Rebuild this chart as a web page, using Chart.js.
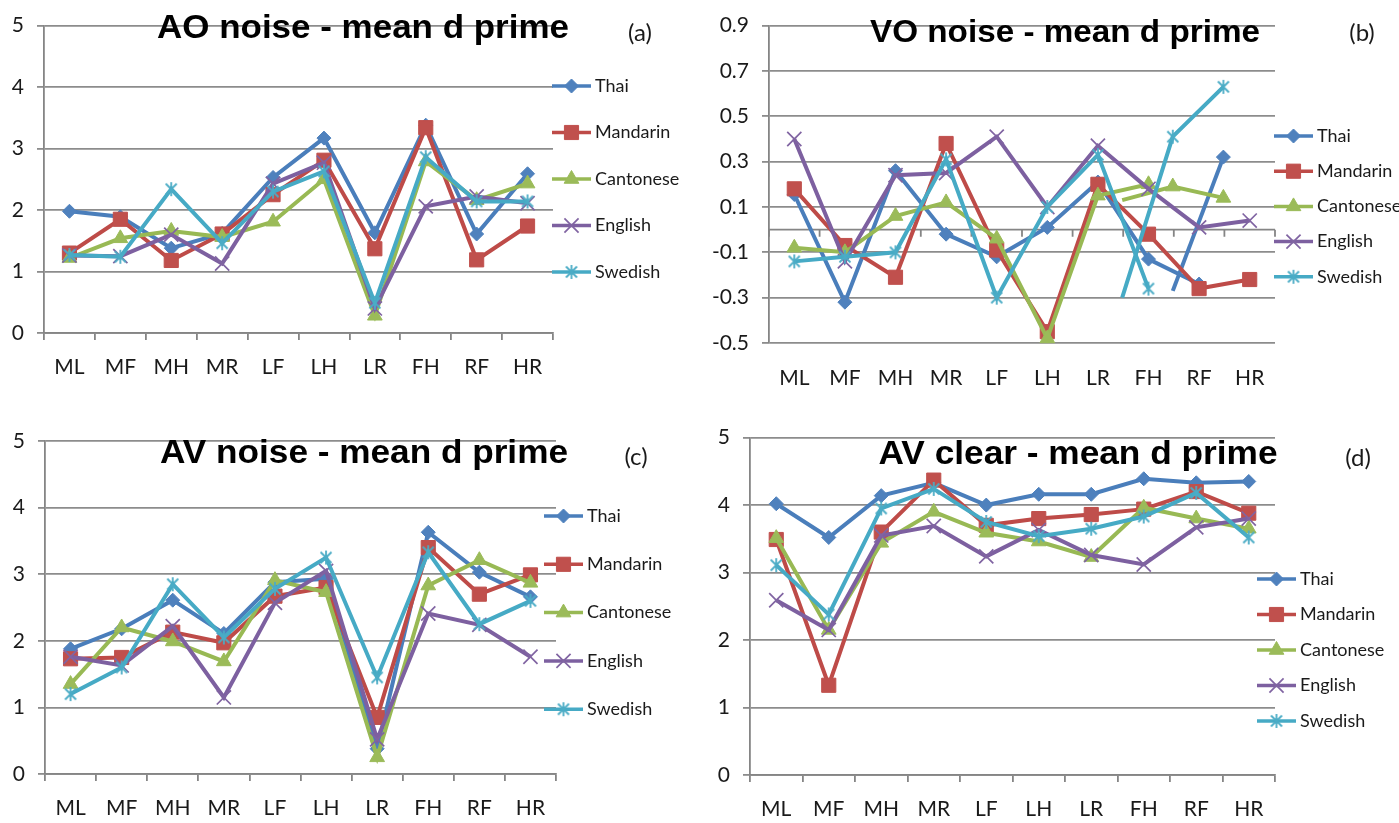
<!DOCTYPE html>
<html>
<head>
<meta charset="utf-8">
<title>Mean d prime by tone pair and language group</title>
<script src="https://cdn.jsdelivr.net/npm/chart.js@4.4.1/dist/chart.umd.min.js"></script>
<style>
  html, body { margin: 0; padding: 0; background: #ffffff; }
  #page { position: relative; width: 1399px; height: 823px; overflow: hidden; background: #ffffff; }
  .panel { position: absolute; }
  .panel canvas { display: block; }
</style>
</head>
<body>
<div id="page">
  <div class="panel" style="left:0px;top:0px;"><canvas id="panelA" width="700" height="412"></canvas></div>
  <div class="panel" style="left:700px;top:0px;"><canvas id="panelB" width="699" height="412"></canvas></div>
  <div class="panel" style="left:0px;top:412px;"><canvas id="panelC" width="700" height="411"></canvas></div>
  <div class="panel" style="left:700px;top:412px;"><canvas id="panelD" width="699" height="411"></canvas></div>
</div>
<script>
// Tone-pair categories and listener groups
const categories = ['ML', 'MF', 'MH', 'MR', 'LF', 'LH', 'LR', 'FH', 'RF', 'HR'];
const groups = ['Thai', 'Mandarin', 'Cantonese', 'English', 'Swedish'];

// Y-axis tick values
const yTicksDprime = [0, 1, 2, 3, 4, 5];
const yTicksVO = [-0.5, -0.3, -0.1, 0.1, 0.3, 0.5, 0.7, 0.9];

// (a) AO noise - mean d prime
const aoThai      = [1.98, 1.89, 1.38, 1.62, 2.53, 3.17, 1.63, 3.38, 1.61, 2.59];
const aoMandarin  = [1.30, 1.85, 1.18, 1.61, 2.25, 2.81, 1.37, 3.34, 1.19, 1.74];
const aoCantonese = [1.22, 1.54, 1.66, 1.56, 1.81, 2.50, 0.28, 2.79, 2.16, 2.43];
const aoEnglish   = [1.26, 1.25, 1.60, 1.13, 2.43, 2.77, 0.40, 2.06, 2.22, 2.11];
const aoSwedish   = [1.27, 1.24, 2.34, 1.46, 2.30, 2.63, 0.49, 2.86, 2.14, 2.14];

// (b) VO noise - mean d prime
const voThai      = [0.155, -0.32, 0.26, -0.02, -0.12, 0.01, 0.21, -0.13, -0.24, null];
const voMandarin  = [0.18, -0.07, -0.21, 0.38, -0.09, -0.45, 0.20, -0.02, -0.26, -0.22];
const voCantonese = [-0.08, -0.10, 0.06, 0.12, -0.04, -0.48, 0.15, 0.20, null, null];
const voEnglish   = [0.40, -0.14, 0.24, 0.25, 0.41, 0.10, 0.37, 0.18, 0.01, 0.04];
const voSwedish   = [-0.14, -0.12, -0.10, 0.31, -0.30, 0.10, 0.33, -0.26, null, null];
// (b) trailing pieces drawn half a category to the right
const voThaiTail      = [null, null, null, null, null, null, null, -0.27, 0.32, null];
const voCantoneseTail = [null, null, null, null, null, null, 0.13, 0.19, 0.14, null];
const voSwedishTail   = [null, null, null, null, null, null, -0.30, 0.41, 0.63, null];

// (c) AV noise - mean d prime
const avThai      = [1.88, 2.18, 2.61, 2.11, 2.88, 2.93, 0.38, 3.63, 3.03, 2.66];
const avMandarin  = [1.73, 1.75, 2.13, 1.97, 2.67, 2.80, 0.85, 3.40, 2.70, 2.99];
const avCantonese = [1.35, 2.20, 1.99, 1.69, 2.91, 2.73, 0.25, 2.83, 3.21, 2.87];
const avEnglish   = [1.76, 1.63, 2.22, 1.15, 2.57, 3.05, 0.52, 2.41, 2.24, 1.76];
const avSwedish   = [1.20, 1.60, 2.85, 2.05, 2.78, 3.25, 1.45, 3.33, 2.25, 2.60];

// (d) AV clear - mean d prime
const acThai      = [4.02, 3.52, 4.14, 4.33, 4.00, 4.16, 4.16, 4.39, 4.33, 4.35];
const acMandarin  = [3.49, 1.33, 3.60, 4.37, 3.70, 3.80, 3.86, 3.94, 4.20, 3.88];
const acCantonese = [3.51, 2.15, 3.44, 3.90, 3.59, 3.46, 3.23, 3.96, 3.80, 3.65];
const acEnglish   = [2.59, 2.15, 3.55, 3.69, 3.24, 3.63, 3.26, 3.12, 3.67, 3.80];
const acSwedish   = [3.11, 2.38, 3.95, 4.24, 3.75, 3.54, 3.65, 3.83, 4.18, 3.52];

// ---- styling ----
const TEXT = '#1a1a1a';
const GRID = '#8c8c8c';
const AXIS = '#858585';
const TICK_FONT = { family: 'Lato, "Open Sans", sans-serif', size: 21 };

// asterisk marker (X with a vertical bar)
function makeAsterisk(color) {
  const c = document.createElement('canvas');
  c.width = 16; c.height = 16;
  const g = c.getContext('2d');
  g.strokeStyle = color; g.lineWidth = 1.8; g.lineCap = 'butt';
  g.beginPath();
  g.moveTo(2.5, 2.5); g.lineTo(13.5, 13.5);
  g.moveTo(13.5, 2.5); g.lineTo(2.5, 13.5);
  g.moveTo(8, 1); g.lineTo(8, 15);
  g.stroke();
  return c;
}

const seriesStyle = {
  Thai:      { line: '#4a7ebb', mark: '#4f81bd', point: 'rectRot',  r: 7,   bw: 1 },
  Mandarin:  { line: '#be4b48', mark: '#c0504d', point: 'rect',     r: 10,  bw: 1 },
  Cantonese: { line: '#98b954', mark: '#9bbb59', point: 'triangle', r: 8.5, bw: 1 },
  English:   { line: '#7d60a0', mark: '#8064a2', point: 'crossRot', r: 10,  bw: 1.7 },
  Swedish:   { line: '#46aac5', mark: '#4bacc6', point: makeAsterisk('#4bacc6'), r: 7, bw: 1 }
};

function series(name, values, idx) {
  const st = seriesStyle[name];
  return {
    label: name,
    data: values,
    borderColor: st.line,
    backgroundColor: st.mark,
    borderWidth: 4,
    pointStyle: st.point,
    pointRadius: st.r,
    pointBackgroundColor: st.mark,
    pointBorderColor: st.mark,
    pointBorderWidth: st.bw,
    tension: 0,
    spanGaps: false,
    clip: false,
    order: groups.length - 1 - idx
  };
}

// piece of a series placed on the shifted x scale; its first point carries no marker
function tail(name, values) {
  const idx = groups.indexOf(name);
  const st = seriesStyle[name];
  const first = values.findIndex(v => v !== null);
  const ds = series(name, values.map((v, i) => ({ x: i, y: v })), idx);
  ds.xAxisID = 'xShift';
  ds.tailPiece = true;
  ds.pointRadius = c => (c.dataIndex === first ? 0 : st.r);
  return ds;
}

// titles, panel letters, legend and the zero axis line
const decor = {
  id: 'decor',
  beforeDatasetsDraw(chart, args, o) {
    if (!o.zeroAxis) return;
    const { ctx, chartArea: a, scales } = chart;
    const y0 = scales.y.getPixelForValue(0);
    const n = categories.length;
    ctx.save();
    ctx.strokeStyle = AXIS;
    ctx.lineWidth = 1.8;
    ctx.beginPath();
    ctx.moveTo(a.left, y0);
    ctx.lineTo(a.right, y0);
    for (let i = 0; i <= n; i++) {
      const x = a.left + i * (a.right - a.left) / n;
      ctx.moveTo(x, y0);
      ctx.lineTo(x, y0 + 7);
    }
    ctx.stroke();
    ctx.restore();
  },
  afterDraw(chart, args, o) {
    const ctx = chart.ctx;
    // title, stretched to its set width
    ctx.save();
    ctx.font = 'bold ' + o.titleSize + 'px "Liberation Sans", Arial, sans-serif';
    ctx.fillStyle = '#000000';
    ctx.textAlign = 'center';
    ctx.textBaseline = 'alphabetic';
    const w = ctx.measureText(o.title).width;
    ctx.translate(o.titleX, o.titleBase);
    ctx.scale(o.titleW / w, 1);
    ctx.fillText(o.title, 0, 0);
    ctx.restore();

    // panel letter
    ctx.save();
    ctx.font = '24px Lato, "Open Sans", sans-serif';
    ctx.fillStyle = TEXT;
    ctx.textAlign = 'center';
    ctx.textBaseline = 'middle';
    ctx.fillText(o.letter, o.letterX, o.letterY);
    ctx.restore();

    // legend: line with marker, then the group name
    const items = chart.data.datasets.filter(d => !d.tailPiece);
    items.forEach((d, i) => {
      const y = o.legendY0 + i * o.legendGap;
      const x = o.legendX;
      ctx.save();
      ctx.strokeStyle = d.borderColor;
      ctx.lineWidth = 3.5;
      ctx.beginPath();
      ctx.moveTo(x, y);
      ctx.lineTo(x + 39, y);
      ctx.stroke();
      ctx.fillStyle = d.pointBackgroundColor;
      ctx.strokeStyle = d.pointBorderColor;
      ctx.lineWidth = d.pointBorderWidth;
      Chart.helpers.drawPoint(ctx, {
        pointStyle: d.pointStyle, rotation: 0, radius: d.pointRadius, borderWidth: d.pointBorderWidth
      }, x + 19.5, y);
      ctx.fillStyle = TEXT;
      ctx.font = '18px Lato, "Open Sans", sans-serif';
      ctx.textAlign = 'left';
      ctx.textBaseline = 'middle';
      ctx.fillText(d.label, x + 43, y);
      ctx.restore();
    });
  }
};

function makePanel(canvasId, p) {
  const scales = {
    x: {
      type: 'category',
      offset: true,
      afterFit: s => { s.height = p.bottomSpace; },
      ticks: { color: TEXT, font: TICK_FONT, padding: p.xPad, autoSkip: false, maxRotation: 0, minRotation: 0 },
      grid: { display: p.xTicks, offset: true, drawOnChartArea: false, tickLength: 7, color: AXIS, lineWidth: 1.8 },
      border: { display: p.xTicks, color: AXIS, width: 1.8 }
    },
    y: {
      type: 'linear',
      min: p.yMin,
      max: p.yMax,
      afterBuildTicks: s => { s.ticks = p.yTicks.map(v => ({ value: v })); },
      afterFit: s => { s.width = p.leftSpace; },
      ticks: { color: TEXT, font: TICK_FONT, padding: 13, callback: v => String(v) },
      grid: { color: GRID, lineWidth: 1.8, tickLength: 7, drawTicks: true },
      border: { display: true, color: AXIS, width: 1.8 }
    }
  };
  if (p.shift) {
    scales.xShift = {
      type: 'linear', display: false,
      min: -0.5 - p.shift, max: categories.length - 0.5 - p.shift
    };
  }
  return new Chart(document.getElementById(canvasId), {
    type: 'line',
    data: { labels: categories, datasets: p.datasets },
    options: {
      responsive: false,
      animation: false,
      events: [],
      layout: { padding: { left: 0, top: p.topSpace, right: p.rightSpace, bottom: 0 } },
      scales: scales,
      plugins: {
        legend: { display: false },
        tooltip: { enabled: false },
        decor: p.decor
      }
    },
    plugins: [decor]
  });
}

function groupSeries(arrays) {
  return arrays.map((vals, i) => series(groups[i], vals, i));
}

makePanel('panelA', {
  datasets: groupSeries([aoThai, aoMandarin, aoCantonese, aoEnglish, aoSwedish]),
  yMin: 0, yMax: 5, yTicks: yTicksDprime,
  leftSpace: 44, topSpace: 17, rightSpace: 147, bottomSpace: 79, xPad: 15, xTicks: true,
  decor: {
    title: 'AO noise - mean d prime', titleX: 363, titleBase: 38, titleW: 412, titleSize: 33,
    letter: '(a)', letterX: 640, letterY: 33,
    legendX: 552, legendY0: 86, legendGap: 46.5
  }
});

makePanel('panelB', {
  datasets: groupSeries([voThai, voMandarin, voCantonese, voEnglish, voSwedish]).concat([
    tail('Thai', voThaiTail),
    tail('Cantonese', voCantoneseTail),
    tail('Swedish', voSwedishTail)
  ]),
  shift: 0.48,
  yMin: -0.5, yMax: 0.9, yTicks: yTicksVO,
  leftSpace: 69, topSpace: 20, rightSpace: 124, bottomSpace: 69, xPad: 16, xTicks: false,
  decor: {
    title: 'VO noise - mean d prime', titleX: 365, titleBase: 42, titleW: 390, titleSize: 31,
    letter: '(b)', letterX: 662, letterY: 33,
    legendX: 574, legendY0: 136, legendGap: 35.2, zeroAxis: true
  }
});

makePanel('panelC', {
  datasets: groupSeries([avThai, avMandarin, avCantonese, avEnglish, avSwedish]),
  yMin: 0, yMax: 5, yTicks: yTicksDprime,
  leftSpace: 45, topSpace: 29, rightSpace: 144, bottomSpace: 49, xPad: 15, xTicks: true,
  decor: {
    title: 'AV noise - mean d prime', titleX: 364, titleBase: 51, titleW: 408, titleSize: 33,
    letter: '(c)', letterX: 636, letterY: 45,
    legendX: 544, legendY0: 104, legendGap: 48.3
  }
});

makePanel('panelD', {
  datasets: groupSeries([acThai, acMandarin, acCantonese, acEnglish, acSwedish]),
  yMin: 0, yMax: 5, yTicks: yTicksDprime,
  leftSpace: 50, topSpace: 25, rightSpace: 124, bottomSpace: 48, xPad: 15, xTicks: true,
  decor: {
    title: 'AV clear - mean d prime', titleX: 378, titleBase: 52, titleW: 399, titleSize: 33,
    letter: '(d)', letterX: 658, letterY: 46,
    legendX: 557, legendY0: 167, legendGap: 35.5
  }
});
</script>
</body>
</html>
